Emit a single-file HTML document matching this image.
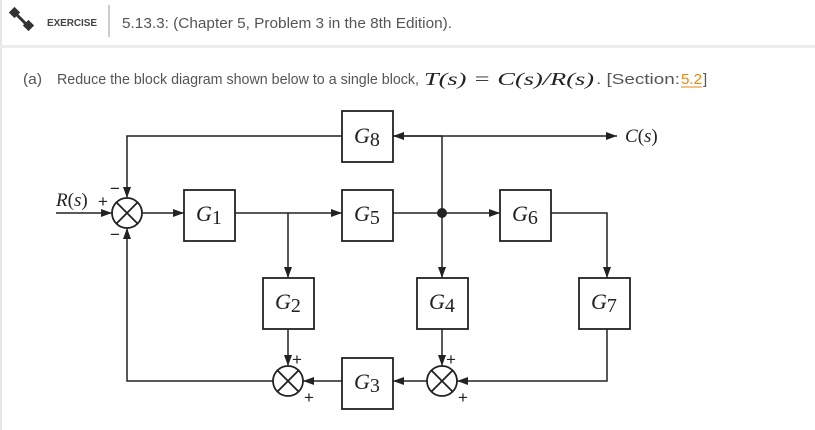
<!DOCTYPE html>
<html><head><meta charset="utf-8"><style>
html,body{margin:0;padding:0;background:#fff;width:815px;height:430px;overflow:hidden}
svg{display:block}
.s{font-family:"Liberation Sans",sans-serif}
.m{font-family:"Liberation Serif",serif;font-style:italic}
</style></head><body>
<svg width="815" height="430" viewBox="0 0 815 430" xmlns="http://www.w3.org/2000/svg">
<defs>
<marker id="a" markerWidth="11" markerHeight="8" refX="11" refY="4" orient="auto" markerUnits="userSpaceOnUse"><path d="M0,0 L11,4 L0,8 z" fill="#222"/></marker>
</defs>
<rect x="0" y="0" width="2" height="430" fill="#e6e6e6"/>
<rect x="0" y="45" width="815" height="3" fill="#ececec"/>
<g stroke="#333" stroke-width="3" fill="#333">
<line x1="16" y1="14" x2="28" y2="26"/>
<rect x="12" y="10" width="5" height="5" transform="rotate(45 14.5 12.5)"/>
<rect x="26" y="23" width="5" height="5" transform="rotate(45 28.5 25.5)"/>
</g>
<text class="s" x="47" y="26" font-size="10" font-weight="bold" fill="#444" textLength="50">EXERCISE</text>
<rect x="108" y="5" width="2" height="32" fill="#ccc"/>
<text class="s" x="122" y="28" font-size="15" fill="#555" textLength="330" lengthAdjust="spacingAndGlyphs">5.13.3: (Chapter 5, Problem 3 in the 8th Edition).</text>
<text class="s" x="23" y="84" font-size="15" fill="#555" textLength="19" lengthAdjust="spacingAndGlyphs">(a)</text>
<text class="s" x="57" y="84" font-size="15" fill="#555" textLength="362" lengthAdjust="spacingAndGlyphs">Reduce the block diagram shown below to a single block,</text>
<text class="m" x="424" y="85" font-size="18" fill="#222" textLength="170" lengthAdjust="spacingAndGlyphs">T(s) = C(s)/R(s)</text>
<text class="s" x="596" y="84" font-size="15" fill="#555" textLength="84" lengthAdjust="spacingAndGlyphs">. [Section: </text>
<text class="s" x="681" y="84" font-size="15" fill="#e8890c" textLength="21" lengthAdjust="spacingAndGlyphs">5.2</text>
<line x1="681" y1="87" x2="702" y2="87" stroke="#e8890c" stroke-width="1"/>
<text class="s" x="703" y="84" font-size="15" fill="#555">]</text>

<g stroke="#222" stroke-width="1.8" fill="none">
<rect x="342" y="111" width="51" height="51"/>
<rect x="184" y="190" width="51" height="51"/>
<rect x="342" y="190" width="51" height="51"/>
<rect x="500" y="190" width="51" height="51"/>
<rect x="263" y="278" width="51" height="51"/>
<rect x="417" y="278" width="51" height="51"/>
<rect x="579" y="278" width="51" height="51"/>
<rect x="342" y="358" width="51" height="51"/>
<circle cx="127" cy="213" r="15"/>
<path d="M116.4,202.4 L137.6,223.6 M137.6,202.4 L116.4,223.6"/>
<circle cx="288" cy="381" r="15"/>
<path d="M277.4,370.4 L298.6,391.6 M298.6,370.4 L277.4,391.6"/>
<circle cx="442" cy="381" r="15"/>
<path d="M431.4,370.4 L452.6,391.6 M452.6,370.4 L431.4,391.6"/>
</g>
<g stroke="#222" stroke-width="1.5" fill="none">
<line x1="56" y1="213" x2="112" y2="213" marker-end="url(#a)"/>
<line x1="142" y1="213" x2="184" y2="213" marker-end="url(#a)"/>
<line x1="235" y1="213" x2="342" y2="213" marker-end="url(#a)"/>
<line x1="288" y1="213" x2="288" y2="278" marker-end="url(#a)"/>
<line x1="393" y1="213" x2="500" y2="213" marker-end="url(#a)"/>
<polyline points="551,213 607,213 607,278" marker-end="url(#a)"/>
<line x1="442" y1="213" x2="442" y2="278" marker-end="url(#a)"/>
<line x1="442" y1="136" x2="442" y2="213"/>
<line x1="393" y1="136" x2="617" y2="136" marker-end="url(#a)"/>
<line x1="442" y1="136" x2="393" y2="136" marker-end="url(#a)"/>
<polyline points="342,136 127,136 127,198" marker-end="url(#a)"/>
<line x1="288" y1="329" x2="288" y2="366" marker-end="url(#a)"/>
<line x1="442" y1="329" x2="442" y2="366" marker-end="url(#a)"/>
<polyline points="607,329 607,381 457,381" marker-end="url(#a)"/>
<line x1="427" y1="381" x2="393" y2="381" marker-end="url(#a)"/>
<line x1="342" y1="381" x2="303" y2="381" marker-end="url(#a)"/>
<polyline points="273,381 127,381 127,228" marker-end="url(#a)"/>
</g>
<circle cx="442" cy="213" r="5" fill="#222"/>
<g class="m" font-size="22" fill="#222">
<text x="354" y="143">G<tspan font-style="normal" font-size="20" dy="3">8</tspan></text>
<text x="196" y="221">G<tspan font-style="normal" font-size="20" dy="3">1</tspan></text>
<text x="354" y="221">G<tspan font-style="normal" font-size="20" dy="3">5</tspan></text>
<text x="512" y="221">G<tspan font-style="normal" font-size="20" dy="3">6</tspan></text>
<text x="275" y="309">G<tspan font-style="normal" font-size="20" dy="3">2</tspan></text>
<text x="429" y="309">G<tspan font-style="normal" font-size="20" dy="3">4</tspan></text>
<text x="591" y="309">G<tspan font-style="normal" font-size="20" dy="3">7</tspan></text>
<text x="354" y="389">G<tspan font-style="normal" font-size="20" dy="3">3</tspan></text>
<text x="56" y="206" font-size="19">R<tspan font-style="normal">(</tspan>s<tspan font-style="normal">)</tspan></text>
<text x="625" y="142" font-size="19">C<tspan font-style="normal">(</tspan>s<tspan font-style="normal">)</tspan></text>
</g>
<g class="s" font-size="17" fill="#222">
<text x="98" y="207">+</text>
<text x="110" y="194">−</text>
<text x="110" y="240">−</text>
<text x="292" y="365">+</text>
<text x="304" y="403">+</text>
<text x="446" y="365">+</text>
<text x="458" y="403">+</text>
</g>
</svg>
</body></html>
